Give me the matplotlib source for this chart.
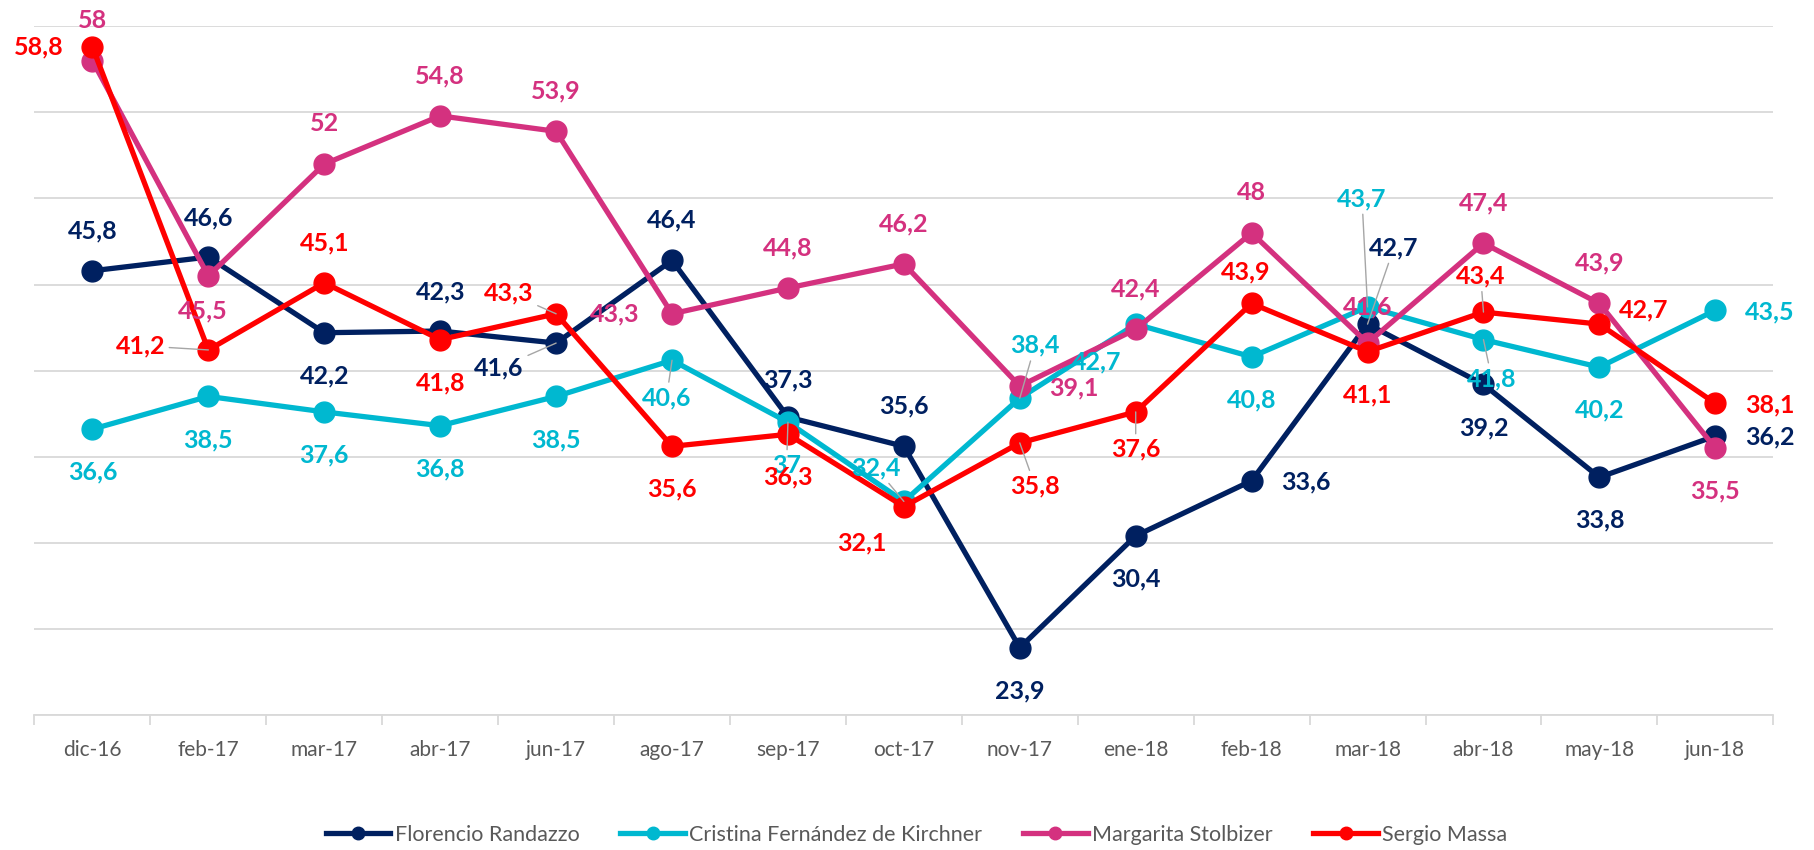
import matplotlib
matplotlib.use("Agg")
import matplotlib.pyplot as plt
import numpy as np

months = ['dic-16', 'feb-17', 'mar-17', 'abr-17', 'jun-17', 'ago-17', 'sep-17', 'oct-17',
          'nov-17', 'ene-18', 'feb-18', 'mar-18', 'abr-18', 'may-18', 'jun-18']

randazzo = [45.8, 46.6, 42.2, 42.3, 41.6, 46.4, 37.3, 35.6, 23.9, 30.4, 33.6, 42.7, 39.2, 33.8, 36.2]
cfk = [36.6, 38.5, 37.6, 36.8, 38.5, 40.6, 37.0, 32.4, 38.4, 42.7, 40.8, 43.7, 41.8, 40.2, 43.5]
stolbizer = [58.0, 45.5, 52.0, 54.8, 53.9, 43.3, 44.8, 46.2, 39.1, 42.4, 48.0, 41.6, 47.4, 43.9, 35.5]
massa = [58.8, 41.2, 45.1, 41.8, 43.3, 35.6, 36.3, 32.1, 35.8, 37.6, 43.9, 41.1, 43.4, 42.7, 38.1]

names = ['Florencio Randazzo', 'Cristina Fernández de Kirchner', 'Margarita Stolbizer', 'Sergio Massa']
colors = ['#002060', '#00B8D0', '#D4317F', '#FF0000']

U, D, R = (0, 29), (0, -31), (39, -1)
# label offsets (points) for each point
offsets = [
    [U, (0, 28), D, (0, 28), (-41, -18), U, (0, 27), U, D, D, R, (19, 55), D, D, R],
    [D, D, D, D, D, (-4, -27), (-1, -31), (-20, 24), (11, 38), (-28, -27), D, (-4, 78), (6, -28), D, R],
    [U, (-4, -25), U, U, U, (-41, 0), U, U, R, U, U, (0, 26), U, U, D],
    [(-39, 0), (-49, 3), U, D, (-34, 15), D, D, (-30, -26), (11, -31), (0, -27), (-4, 23), D, (-2, 26), (32, 10), R],
]
# points whose label has a grey leader line
leaders = [
    [4, 11],
    [5, 6, 7, 8, 11, 12],
    [],
    [1, 4, 8, 9, 12],
]

plt.rcParams['font.family'] = ['Lato', 'DejaVu Sans']

fig = plt.figure(figsize=(18.15, 8.5), dpi=100)
ax = fig.add_axes([0.019, 0.159, 0.958, 0.81])

x = np.arange(len(months))
series = [randazzo, cfk, stolbizer, massa]
for i, vals in enumerate(series):
    ax.plot(x, vals, color=colors[i], lw=3.8, marker='o', markersize=15,
            label=names[i], zorder=3 + i, solid_joinstyle='round')

for i, vals in enumerate(series):
    for j, v in enumerate(vals):
        txt = f"{v:g}".replace('.', ',')
        dx, dy = offsets[i][j]
        kw = {}
        if j in leaders[i]:
            kw['arrowprops'] = dict(arrowstyle='-', color='#A6A6A6', lw=1, shrinkA=1, shrinkB=0)
        ax.annotate(txt, (x[j], v), xytext=(dx, dy), textcoords='offset points',
                    ha='center', va='center', fontsize=18, fontweight='bold',
                    color=colors[i], zorder=10, **kw)

ax.set_xlim(-0.5, len(months) - 0.5)
ax.set_ylim(20, 60)
ax.set_yticks(np.arange(20, 61, 5))
ax.yaxis.grid(True, color='#D9D9D9', lw=1.3)
ax.set_axisbelow(True)
ax.tick_params(axis='y', left=False, labelleft=False)
for s in ['top', 'right', 'left']:
    ax.spines[s].set_visible(False)
ax.spines['bottom'].set_color('#D9D9D9')
ax.spines['bottom'].set_linewidth(1.3)

ax.set_xticks(x)
ax.set_xticklabels(months, fontsize=15, color='#595959')
ax.set_xticks(np.arange(-0.5, len(months), 1), minor=True)
ax.tick_params(axis='x', which='major', length=0, pad=18)
ax.tick_params(axis='x', which='minor', length=7, color='#D9D9D9', width=1.3)

leg = fig.legend(loc='center', bbox_to_anchor=(0.505, 0.018), ncol=4, frameon=False,
                 fontsize=15.5, handlelength=3.0, columnspacing=1.9, handletextpad=0.2,
                 markerscale=0.6)
for t in leg.get_texts():
    t.set_color('#595959')

fig.savefig('out.png', dpi=100)
